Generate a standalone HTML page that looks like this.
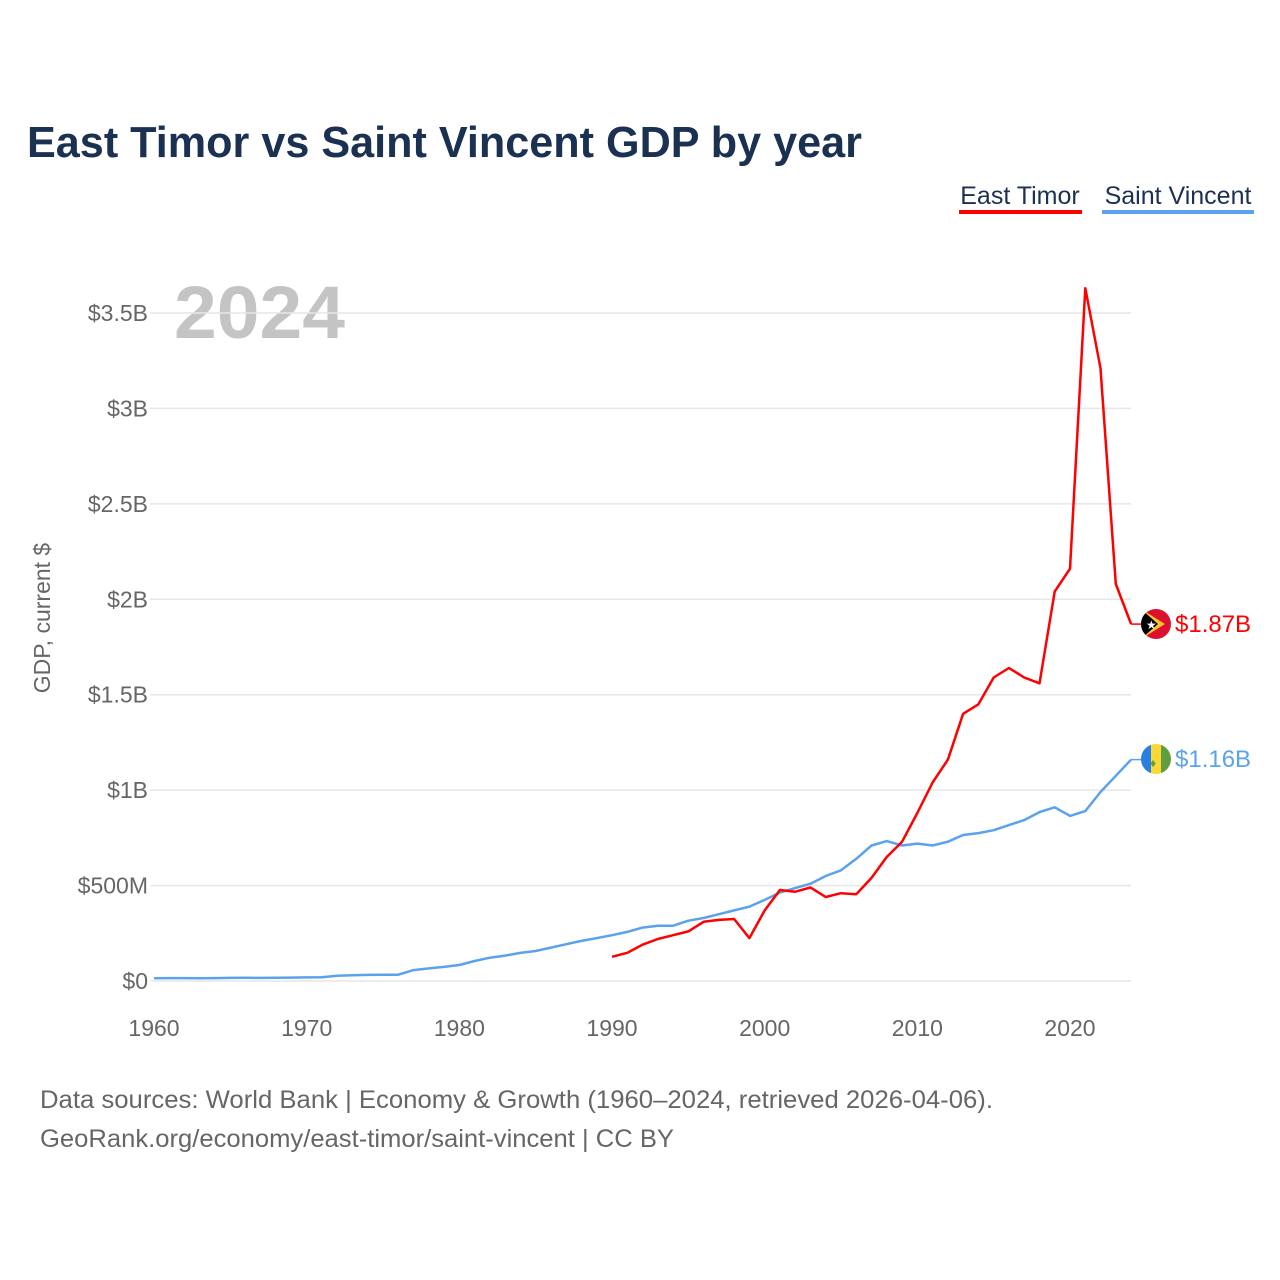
<!DOCTYPE html>
<html><head><meta charset="utf-8"><style>
body{margin:0;background:#fff;}
svg{display:block;font-family:"Liberation Sans",sans-serif;}
</style></head><body>
<svg id="chart" width="1280" height="1280" viewBox="0 0 1280 1280">
<text x="27" y="157" font-size="44" font-weight="bold" fill="#1b3152" textLength="835" lengthAdjust="spacingAndGlyphs">East Timor vs Saint Vincent GDP by year</text>
<g>
<text x="1020" y="204" font-size="25" fill="#1b3152" text-anchor="middle">East Timor</text>
<rect x="959" y="210" width="123" height="4" fill="#ff0000"/>
<text x="1178" y="204" font-size="25" fill="#1b3152" text-anchor="middle">Saint Vincent</text>
<rect x="1102" y="210" width="152" height="4" fill="#5aa3ec"/>
</g>
<text x="174" y="338" font-size="74" font-weight="bold" fill="#c4c4c4" textLength="171" lengthAdjust="spacingAndGlyphs">2024</text>
<g id="grid"></g><g id="yticks"></g><g id="xticks"></g>
<text transform="translate(50,618) rotate(-90)" font-size="23" fill="#666" text-anchor="middle">GDP, current $</text>
<g id="series"></g>
<g>
<clipPath id="c1"><circle cx="1156" cy="624" r="15"/></clipPath>
<g clip-path="url(#c1)"><rect x="1141" y="609" width="30" height="30" fill="#dc1030"/><polygon points="1141,609 1165,624 1141,639" fill="#ffc726"/><polygon points="1141,609 1158,624 1141,639" fill="#000"/><text x="1146" y="629" font-size="12" fill="#fff">★</text></g>
<text x="1175" y="632" font-size="24" fill="#ff0000">$1.87B</text>
</g>
<g>
<clipPath id="c2"><circle cx="1156" cy="759" r="15"/></clipPath>
<g clip-path="url(#c2)"><rect x="1141" y="744" width="10" height="30" fill="#2a7fe3"/><rect x="1151" y="744" width="10" height="30" fill="#fdd835"/><rect x="1161" y="744" width="10" height="30" fill="#5e9e3e"/><text x="1150" y="767" font-size="12" fill="#5e9e3e">♦</text></g>
<text x="1175" y="767" font-size="24" fill="#5aa3ec">$1.16B</text>
</g>
<text x="40" y="1108" font-size="25" fill="#666" textLength="953" lengthAdjust="spacingAndGlyphs">Data sources: World Bank | Economy &amp; Growth (1960–2024, retrieved 2026-04-06).</text>
<text x="40" y="1147" font-size="25" fill="#666" textLength="634" lengthAdjust="spacingAndGlyphs">GeoRank.org/economy/east-timor/saint-vincent | CC BY</text>
</svg>
<script>
const yTickValues=[0,0.5,1,1.5,2,2.5,3,3.5];
const yTickLabels=["$0","$500M","$1B","$1.5B","$2B","$2.5B","$3B","$3.5B"];
const xTickYears=[1960,1970,1980,1990,2000,2010,2020];
const tlStart=1990;
const eastTimor=[0.127,0.148,0.19,0.22,0.24,0.26,0.31,0.32,0.325,0.225,0.37,0.477,0.468,0.49,0.44,0.46,0.455,0.54,0.65,0.73,0.88,1.04,1.16,1.40,1.45,1.59,1.64,1.59,1.56,2.04,2.16,3.63,3.21,2.08,1.87];
const svStart=1960;
const saintVincent=[0.014,0.015,0.015,0.014,0.015,0.016,0.017,0.016,0.017,0.018,0.019,0.02,0.028,0.03,0.032,0.033,0.033,0.057,0.066,0.074,0.084,0.105,0.122,0.133,0.147,0.157,0.175,0.193,0.21,0.225,0.24,0.257,0.28,0.29,0.29,0.316,0.33,0.35,0.37,0.39,0.425,0.463,0.487,0.51,0.55,0.58,0.64,0.71,0.733,0.71,0.72,0.71,0.73,0.765,0.775,0.79,0.817,0.843,0.885,0.91,0.865,0.89,0.99,1.075,1.16];
const NS="http://www.w3.org/2000/svg";
const x=yr=>154+(yr-1960)*(1070-154)/60;
const y=v=>981-v*190.86;
function mk(tag,attrs,parent){const e=document.createElementNS(NS,tag);for(const k in attrs)e.setAttribute(k,attrs[k]);document.getElementById(parent).appendChild(e);return e;}
yTickValues.forEach((v,i)=>{
 const l=mk('line',{x1:150,x2:1131,y1:y(v),y2:y(v),stroke:'#e6e6e6','stroke-width':1.5},'grid');
 
 
 const t=mk('text',{x:148,y:y(v)+8,'font-size':23,fill:'#666','text-anchor':'end'},'yticks');
 t.textContent=yTickLabels[i];
 
 
});
xTickYears.forEach(yr=>{
 const t=mk('text',{x:x(yr),y:1036,'font-size':23,fill:'#666','text-anchor':'middle'},'xticks');
 t.textContent=yr;
 
 
});
function line(data,start,color,name){
 const pts=data.map((v,i)=>x(start+i).toFixed(1)+','+y(v).toFixed(1)).join(' ');
 const p=mk('polyline',{points:pts,fill:'none',stroke:color,'stroke-width':2.5,'stroke-linejoin':'round'},'series');
 
 
 const last=data[data.length-1];
 const c=mk('line',{x1:x(start+data.length-1),x2:1141,y1:y(last),y2:y(last),stroke:color,'stroke-width':1.5},'series');
 
 
}
line(saintVincent,svStart,'#5aa3ec','saint-vincent-line');
line(eastTimor,tlStart,'#ff0000','east-timor-line');
</script>
</body></html>
